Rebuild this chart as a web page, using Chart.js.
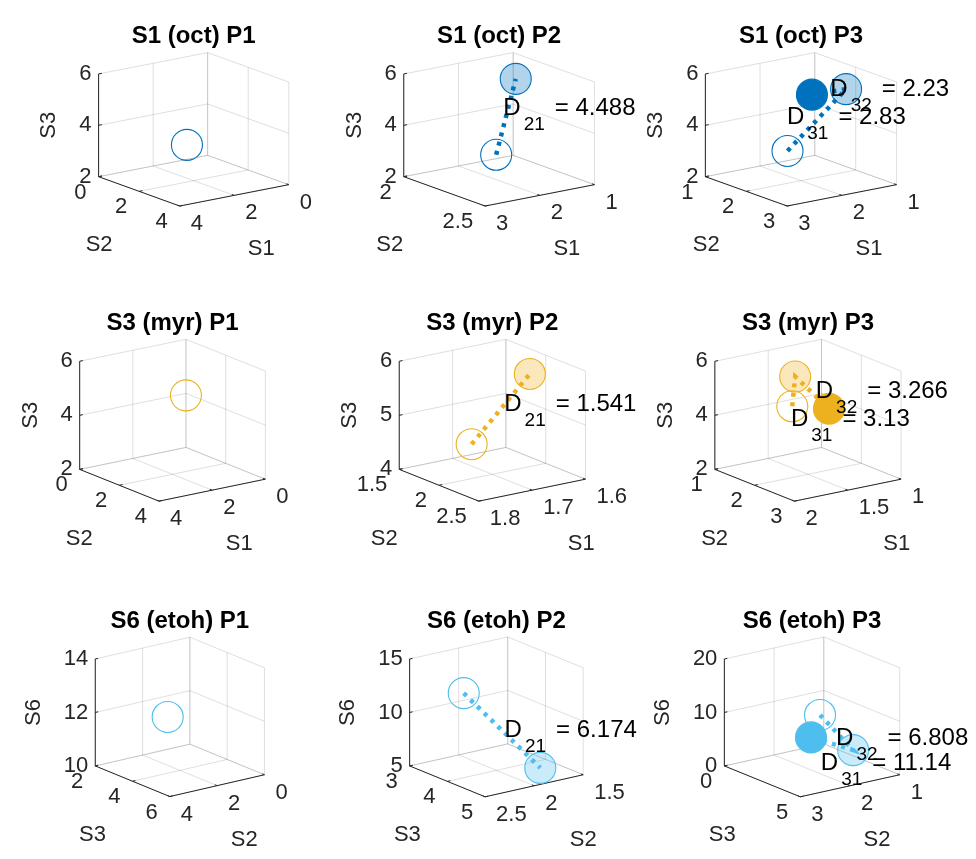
<!DOCTYPE html>
<html>
<head>
<meta charset="utf-8">
<script src="https://cdn.jsdelivr.net/npm/chart.js@4.4.1/dist/chart.umd.min.js"></script>
<style>
  html, body { margin: 0; padding: 0; background: #fff; }
  #fig { position: relative; width: 976px; height: 859px; overflow: hidden; background: #fff; }
  #fig canvas { position: absolute; }
</style>
</head>
<body>
<div id="fig"></div>
<script>
// ---------------- data ----------------
// Each point is [right-hand floor axis, left-hand floor axis, vertical axis]
const substanceTitles = ['S1 (oct)', 'S3 (myr)', 'S6 (etoh)'];
const stageLabels = ['P1', 'P2', 'P3'];

const octAxisNames = ['S1', 'S2', 'S3'];
const octP1 = [2.56, 2.42, 3.63];
const octP2 = [1.25, 2.10, 5.31];
const octP3 = [1.65, 1.80, 5.09];
const octDistances = [4.488, 2.23, 2.83];          // D21, D32, D31
const octRightTicks = [[0, 2, 4], [1, 2, 3], [1, 2, 3]];
const octLeftTicks  = [[0, 2, 4], [2, 2.5], [1, 2, 3]];
const octVertTicks  = [[2, 4, 6], [2, 4, 6], [2, 4, 6]];

const myrAxisNames = ['S1', 'S2', 'S3'];
const myrP1 = [1.80, 2.41, 5.00];
const myrP2 = [1.636, 2.042, 5.75];
const myrP3 = [1.10, 1.455, 3.78];
const myrDistances = [1.541, 3.266, 3.13];
const myrRightTicks = [[0, 2, 4], [1.6, 1.7, 1.8], [1, 1.5, 2]];
const myrLeftTicks  = [[0, 2, 4], [1.5, 2, 2.5], [1, 2, 3]];
const myrVertTicks  = [[2, 4, 6], [4, 5, 6], [2, 4, 6]];

const etohAxisNames = ['S2', 'S3', 'S6'];
const etohP1 = [2.16, 3.55, 11.9];
const etohP2 = [1.93, 4.98, 6.5];
const etohP3 = [1.41, 0.5, 2.64];
const etohDistances = [6.174, 6.808, 11.14];
const etohRightTicks = [[0, 2, 4], [1.5, 2, 2.5], [1, 2, 3]];
const etohLeftTicks  = [[2, 4, 6], [3, 4, 5], [0, 5]];
const etohVertTicks  = [[10, 12, 14], [5, 10, 15], [0, 10, 20]];

// ---------------- styles & layout ----------------
const seriesColors = ['#0072BD', '#EDB120', '#4DBEEE'];
const FONT = '"Liberation Sans", Arial, Helvetica, sans-serif';
const INK = 'rgb(38,38,38)';
const GRID = 'rgba(38,38,38,0.15)';

const cellX = [0, 318, 630], cellW = [336, 346, 346];
const cellY = [0, 288, 578], cellH = [300, 300, 281];

// projected plot boxes: front-bottom corner, left corner, right corner, height (page px)
const boxes = [
  [ { front: [181, 213],   left: [91, 180],    right: [302, 189],   h: 115.5 },
    { front: [484.5, 213], left: [394.5, 180], right: [605.5, 189], h: 115.5 },
    { front: [785.5, 213], left: [695, 180],   right: [906.5, 189], h: 115.5 } ],
  [ { front: [158, 509],   left: [70, 473.3],    right: [276, 484.3],   h: 121.6 },
    { front: [477.5, 509], left: [389.5, 473.3], right: [595.5, 484.3], h: 121.6 },
    { front: [793.5, 509], left: [705.5, 473.3], right: [911.5, 484.3], h: 121.6 } ],
  [ { front: [170, 807],     left: [87.3, 772.3], right: [275, 782.3], h: 121.3 },
    { front: [484.5, 807.3], left: [401, 772.3],  right: [593, 782.3], h: 121.3 },
    { front: [800, 807.3],   left: [716, 772.3],  right: [910, 782.3], h: 121.3 } ]
];

// placement nudges (px) of the distance annotations relative to the segment midpoint
const distNudge = [
  { d21: [-2.6, -10.8], d32: [1.3, -5],   d31: [-12.8, -7.5] },
  { d21: [3.5, -7],     d32: [3.7, -3.7], d31: [-19.7, 9.6] },
  { d21: [2.6, -2],     d32: [4, -7.5],   d31: [5.3, 35] }
];

const substances = [
  { title: substanceTitles[0], axes: octAxisNames, points: [octP1, octP2, octP3], dist: octDistances,
    xt: octRightTicks, yt: octLeftTicks, zt: octVertTicks },
  { title: substanceTitles[1], axes: myrAxisNames, points: [myrP1, myrP2, myrP3], dist: myrDistances,
    xt: myrRightTicks, yt: myrLeftTicks, zt: myrVertTicks },
  { title: substanceTitles[2], axes: etohAxisNames, points: [etohP1, etohP2, etohP3], dist: etohDistances,
    xt: etohRightTicks, yt: etohLeftTicks, zt: etohVertTicks }
];

// ---------------- helpers ----------------
function rgba(hex, a) {
  const n = parseInt(hex.slice(1), 16);
  return `rgba(${(n >> 16) & 255},${(n >> 8) & 255},${n & 255},${a})`;
}

// orthographic projection of a 3-D value triple onto the page plane
function makeProjector(box, xt, yt, zt) {
  const xmin = xt[0], xmax = xt[xt.length - 1];
  const ymin = yt[0], ymax = yt[yt.length - 1];
  const zmin = zt[0], zmax = zt[zt.length - 1];
  const R = [box.right[0] - box.front[0], box.right[1] - box.front[1]];
  const L = [box.left[0] - box.front[0], box.left[1] - box.front[1]];
  return p => {
    const u = (xmax - p[0]) / (xmax - xmin);
    const v = (ymax - p[1]) / (ymax - ymin);
    const w = (p[2] - zmin) / (zmax - zmin);
    return { x: box.front[0] + u * R[0] + v * L[0], y: box.front[1] + u * R[1] + v * L[1] - w * box.h };
  };
}

function segment(a, b, color, width, order) {
  return { data: [a, b], showLine: true, borderColor: color, borderWidth: width,
           pointRadius: 0, pointHoverRadius: 0, fill: false, order, borderCapStyle: 'butt' };
}

function drawDistance(ctx, X, Y, sub, value) {
  ctx.fillStyle = '#000';
  ctx.textAlign = 'left';
  ctx.textBaseline = 'alphabetic';
  const base = Y + 8.6;
  ctx.font = `24px ${FONT}`;
  ctx.fillText('D', X, base);
  let x = X + ctx.measureText('D').width + 3;
  ctx.font = `19px ${FONT}`;
  ctx.fillText(sub, x, base + 15);
  x += ctx.measureText(sub).width + 10;
  ctx.font = `24px ${FONT}`;
  ctx.fillText('= ' + value, x, base);
}

// ---------------- build the 3 x 3 grid ----------------
const fig = document.getElementById('fig');

substances.forEach((s, r) => {
  for (let c = 0; c < 3; c++) {
    const xt = s.xt[c], yt = s.yt[c], zt = s.zt[c];
    const xmin = xt[0], xmax = xt[xt.length - 1];
    const ymin = yt[0], ymax = yt[yt.length - 1];
    const zmin = zt[0], zmax = zt[zt.length - 1];
    const proj = makeProjector(boxes[r][c], xt, yt, zt);
    const color = seriesColors[r];
    const datasets = [];

    // background grid on floor and the two back walls
    xt.forEach(a => {
      datasets.push(segment(proj([a, ymin, zmin]), proj([a, ymax, zmin]), GRID, 1, 6));
      datasets.push(segment(proj([a, ymin, zmin]), proj([a, ymin, zmax]), GRID, 1, 6));
    });
    yt.forEach(b => {
      datasets.push(segment(proj([xmin, b, zmin]), proj([xmax, b, zmin]), GRID, 1, 6));
      datasets.push(segment(proj([xmin, b, zmin]), proj([xmin, b, zmax]), GRID, 1, 6));
    });
    zt.forEach(z => {
      datasets.push(segment(proj([xmin, ymin, z]), proj([xmax, ymin, z]), GRID, 1, 6));
      datasets.push(segment(proj([xmin, ymin, z]), proj([xmin, ymax, z]), GRID, 1, 6));
    });

    // axis lines and tick marks
    datasets.push(segment(proj([xmax, ymin, zmin]), proj([xmax, ymin, zmax]), INK, 1, 5));
    datasets.push(segment(proj([xmax, ymin, zmin]), proj([xmax, ymax, zmin]), INK, 1, 5));
    datasets.push(segment(proj([xmax, ymax, zmin]), proj([xmin, ymax, zmin]), INK, 1, 5));
    const dx = 0.03 * (xmax - xmin), dy = 0.03 * (ymax - ymin);
    zt.forEach(z => datasets.push(segment(proj([xmax, ymin, z]), proj([xmax - dx, ymin, z]), INK, 1, 5)));
    yt.forEach(b => datasets.push(segment(proj([xmax, b, zmin]), proj([xmax - dx, b, zmin]), INK, 1, 5)));
    xt.forEach(a => datasets.push(segment(proj([a, ymax, zmin]), proj([a, ymax - dy, zmin]), INK, 1, 5)));

    // measurements shown so far
    const shown = s.points.slice(0, c + 1);
    const styles = [
      { bg: 'rgba(0,0,0,0)', order: 4 },
      { bg: rgba(color, 0.3), order: 3 },
      { bg: color, order: 1 }
    ];
    shown.forEach((p, i) => {
      datasets.push({ data: [proj(p)], showLine: false, pointRadius: 15.5, pointHoverRadius: 15.5,
        pointBorderWidth: 1.1, pointBackgroundColor: styles[i].bg, pointBorderColor: color,
        backgroundColor: styles[i].bg, borderColor: color, order: styles[i].order });
    });
    if (shown.length > 1) {
      datasets.push({ data: shown.map(proj), showLine: true, borderColor: color, borderWidth: 4.5,
        borderDash: [4, 5.5], borderCapStyle: 'butt', pointRadius: 0, pointHoverRadius: 0,
        fill: false, order: 2 });
    }

    const canvas = document.createElement('canvas');
    canvas.width = cellW[c];
    canvas.height = cellH[r];
    canvas.style.left = cellX[c] + 'px';
    canvas.style.top = cellY[r] + 'px';
    canvas.style.width = cellW[c] + 'px';
    canvas.style.height = cellH[r] + 'px';
    fig.appendChild(canvas);

    const annotate = {
      id: 'panelText',
      afterDatasetsDraw(chart) {
        const ctx = chart.ctx;
        const sx = chart.scales.x, sy = chart.scales.y;
        const P = p => { const q = proj(p); return { x: sx.getPixelForValue(q.x), y: sy.getPixelForValue(q.y) }; };
        ctx.save();

        // title
        const bl = P([xmax, ymin, zmin]), br = P([xmin, ymax, zmin]), tb = P([xmin, ymin, zmax]);
        ctx.fillStyle = '#000';
        ctx.font = `bold 24px ${FONT}`;
        ctx.textAlign = 'center';
        ctx.textBaseline = 'middle';
        ctx.fillText(`${s.title} ${stageLabels[c]}`, (bl.x + br.x) / 2, tb.y - 16);

        ctx.fillStyle = INK;
        ctx.font = `22px ${FONT}`;

        // vertical axis ticks and label
        ctx.textAlign = 'right';
        let leftMost = Infinity;
        zt.forEach(z => {
          const p = P([xmax, ymin, z]);
          const t = String(z);
          ctx.fillText(t, p.x - 7, p.y);
          leftMost = Math.min(leftMost, p.x - 7 - ctx.measureText(t).width);
        });
        const zMid = (P([xmax, ymin, zmin]).y + P([xmax, ymin, zmax]).y) / 2;
        ctx.save();
        ctx.translate(leftMost - 30, zMid);
        ctx.rotate(-Math.PI / 2);
        ctx.textAlign = 'center';
        ctx.fillText(s.axes[2], 0, 0);
        ctx.restore();

        // left floor axis
        ctx.textAlign = 'right';
        let wl = 0;
        yt.forEach(b => {
          const p = P([xmax, b, zmin]);
          const t = String(b);
          ctx.fillText(t, p.x - 12, p.y + 16);
          wl = Math.max(wl, ctx.measureText(t).width);
        });
        const ml = P([xmax, (ymin + ymax) / 2, zmin]);
        ctx.textAlign = 'center';
        ctx.fillText(s.axes[1], ml.x - 40 - Math.max(0, wl - 12.2) * 0.8, ml.y + 54);

        // right floor axis
        ctx.textAlign = 'left';
        let wr = 0;
        xt.forEach(a => {
          const p = P([a, ymax, zmin]);
          const t = String(a);
          ctx.fillText(t, p.x + 11, p.y + 18);
          wr = Math.max(wr, ctx.measureText(t).width);
        });
        const mr = P([(xmin + xmax) / 2, ymax, zmin]);
        ctx.textAlign = 'center';
        ctx.fillText(s.axes[0], mr.x + 27 + Math.max(0, wr - 12.2) * 1.2, mr.y + 54);

        // distance annotations at segment midpoints
        const mid = (i, j) => {
          const a = P(s.points[i]), b = P(s.points[j]);
          return { x: (a.x + b.x) / 2, y: (a.y + b.y) / 2 };
        };
        const nudge = distNudge[r];
        if (c === 1) {
          const m = mid(0, 1);
          drawDistance(ctx, m.x + nudge.d21[0], m.y + nudge.d21[1], '21', s.dist[0]);
        } else if (c === 2) {
          const m32 = mid(1, 2), m31 = mid(0, 2);
          drawDistance(ctx, m32.x + nudge.d32[0], m32.y + nudge.d32[1], '32', s.dist[1]);
          drawDistance(ctx, m31.x + nudge.d31[0], m31.y + nudge.d31[1], '31', s.dist[2]);
        }
        ctx.restore();
      }
    };

    new Chart(canvas, {
      type: 'scatter',
      data: { datasets },
      options: {
        responsive: false,
        maintainAspectRatio: false,
        devicePixelRatio: 1,
        animation: false,
        events: [],
        layout: { padding: 0 },
        plugins: { legend: { display: false }, tooltip: { enabled: false }, title: { display: false } },
        scales: {
          x: { type: 'linear', min: cellX[c], max: cellX[c] + cellW[c], bounds: 'data', display: false },
          y: { type: 'linear', min: cellY[r], max: cellY[r] + cellH[r], bounds: 'data', reverse: true, display: false }
        }
      },
      plugins: [annotate]
    });
  }
});
</script>
</body>
</html>
